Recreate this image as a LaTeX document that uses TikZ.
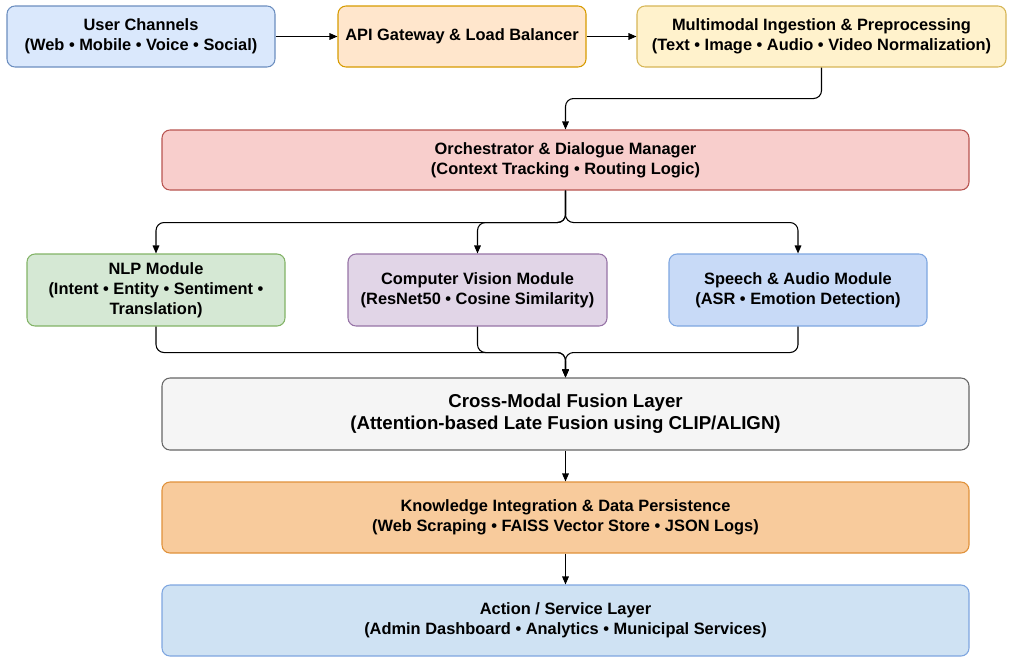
\documentclass[tikz,border=0pt]{standalone}
\usepackage{fontspec}
\setmainfont{Liberation Sans}
\usetikzlibrary{arrows.meta,positioning,calc}
\definecolor{ucF}{HTML}{DAE8FC}\definecolor{ucD}{HTML}{6C8EBF}
\definecolor{apiF}{HTML}{FFE6CC}\definecolor{apiD}{HTML}{D79B00}
\definecolor{mmF}{HTML}{FFF2CC}\definecolor{mmD}{HTML}{D6B656}
\definecolor{orF}{HTML}{F8CECC}\definecolor{orD}{HTML}{B85450}
\definecolor{nlpF}{HTML}{D5E8D4}\definecolor{nlpD}{HTML}{82B366}
\definecolor{cvF}{HTML}{E1D5E7}\definecolor{cvD}{HTML}{9673A6}
\definecolor{spF}{HTML}{C8DAF7}\definecolor{spD}{HTML}{7EA6E0}
\definecolor{fuF}{HTML}{F5F5F5}\definecolor{fuD}{HTML}{666666}
\definecolor{knF}{HTML}{F8CB9C}\definecolor{knD}{HTML}{E0913A}
\definecolor{acF}{HTML}{CFE2F3}\definecolor{acD}{HTML}{7EA6E0}
\begin{document}
\begin{tikzpicture}[x=0.75pt,y=-0.75pt,
  blk/.style={draw, rounded corners=6pt, line width=0.8pt, align=center,
    font=\bfseries\fontsize{12.3}{15}\selectfont, inner sep=0pt},
  arr/.style={draw, line width=0.8pt, rounded corners=6pt, -{Triangle[length=6pt,width=5pt]}}]
\useasboundingbox (0,0) rectangle (1013,657);
\node[blk, fill=ucF, draw=ucD, minimum width=201pt, minimum height=45.75pt] (uc) at (141,36.5)
  {User Channels\\(Web • Mobile • Voice • Social)};
\node[blk, fill=apiF, draw=apiD, minimum width=186pt, minimum height=45.75pt] (api) at (462,36.5)
  {API Gateway \& Load Balancer};
\node[blk, fill=mmF, draw=mmD, minimum width=276.75pt, minimum height=45.75pt] (mm) at (821.5,36.5)
  {Multimodal Ingestion \& Preprocessing\\(Text • Image • Audio • Video Normalization)};
\node[blk, fill=orF, draw=orD, minimum width=605.25pt, minimum height=45pt] (orch) at (565.5,160)
  {Orchestrator \& Dialogue Manager\\(Context Tracking • Routing Logic)};
\node[blk, fill=nlpF, draw=nlpD, minimum width=193.5pt, minimum height=54pt] (nlp) at (156,290)
  {NLP Module\\(Intent • Entity • Sentiment •\\Translation)};
\node[blk, fill=cvF, draw=cvD, minimum width=194.25pt, minimum height=54pt] (cv) at (477.5,290)
  {Computer Vision Module\\(ResNet50 • Cosine Similarity)};
\node[blk, fill=spF, draw=spD, minimum width=193.5pt, minimum height=54pt] (sp) at (798,290)
  {Speech \& Audio Module\\(ASR • Emotion Detection)};
\node[blk, fill=fuF, draw=fuD, minimum width=605.25pt, minimum height=54pt,
  font=\bfseries\fontsize{14}{16.5}\selectfont] (fu) at (565.5,414)
  {Cross-Modal Fusion Layer\\(Attention-based Late Fusion using CLIP/ALIGN)};
\node[blk, fill=knF, draw=knD, minimum width=605.25pt, minimum height=53.25pt] (kn) at (565.5,517.5)
  {Knowledge Integration \& Data Persistence\\(Web Scraping • FAISS Vector Store • JSON Logs)};
\node[blk, fill=acF, draw=acD, minimum width=605.25pt, minimum height=53.25pt] (ac) at (565.5,620.5)
  {Action / Service Layer\\(Admin Dashboard • Analytics • Municipal Services)};
\draw[arr] (uc) -- (api);
\draw[arr] (api) -- (mm);
\draw[arr] (mm.south) -- ++(0,31) -| (orch.north);
\draw[arr] (orch.south) -- ++(0,32) -| (nlp.north);
\draw[arr] (orch.south) -- ++(0,32) -| (cv.north);
\draw[arr] (orch.south) -- ++(0,32) -| (sp.north);
\draw[arr] (nlp.south) -- ++(0,26) -| (fu.north);
\draw[arr] (cv.south) -- ++(0,26) -| (fu.north);
\draw[arr] (sp.south) -- ++(0,26) -| (fu.north);
\draw[arr] (fu) -- (kn);
\draw[arr] (kn) -- (ac);
\end{tikzpicture}
\end{document}
